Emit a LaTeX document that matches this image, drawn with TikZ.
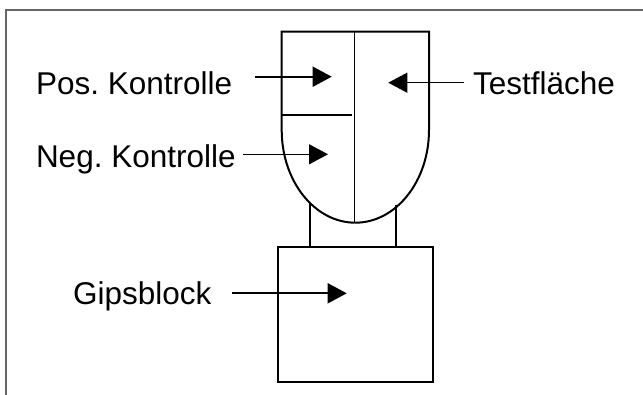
\documentclass[tikz,border=0pt]{standalone}
\usepackage{fontspec}
\setmainfont{Liberation Sans}
\usetikzlibrary{arrows.meta}
\frenchspacing
\begin{document}
\begin{tikzpicture}[x=1pt,y=-1pt,
  label/.style={anchor=base west,inner sep=0pt,outer sep=0pt,
    font=\fontsize{31.5}{36}\selectfont},
  outline/.style={line width=2pt,line join=miter},
  thin/.style={line width=1.4pt},
  pointer/.style={-{Triangle[length=19pt,width=20pt]}}]
  \useasboundingbox (0,0) rectangle (643,395);

  % frame (top and left edges)
  \draw[gray!80!black,line width=1.1pt] (6,395) -- (6,10) -- (643,10);

  % specimen: flat top, straight sides, half-ellipse bottom
  \draw[outline] (281.7,130) -- (281.7,31.7) -- (429,31.7) -- (429,130)
    arc[start angle=0,end angle=180,x radius=73.65,y radius=92.7];
  \coordinate (midTop) at (354.3,31.7);
  \coordinate (midBot) at (354.3,222.7);
  \draw[thin] (midTop) -- (midBot);
  \coordinate (divL) at (281.7,115.3);
  \coordinate (divR) at (351.7,115.3);
  \draw[outline] (divL) -- (divR);

  % stem
  \coordinate (stemLt) at (310,203.5);
  \coordinate (stemLb) at (310,245.7);
  \coordinate (stemRt) at (396,205);
  \coordinate (stemRb) at (396,245.7);
  \draw[thin] (stemLt) -- (stemLb);
  \draw[outline] (stemRt) -- (stemRb);

  % plaster block
  \node[draw,outline,minimum width=155pt,minimum height=135pt,inner sep=0pt,
    anchor=north west] (block) at (276.7,245.7) {};

  % labels
  \node[label] (pos) at (36,95) {Pos. Kontrolle};
  \node[label] (neg) at (36,168) {Neg. Kontrolle};
  \node[label] (test) at (473,95) {Testfläche};
  \node[label] (gips) at (73,305) {Gipsblock};

  % pointers
  \coordinate (posTail) at (255,76.7);
  \coordinate (posTip) at (331.7,76.7);
  \coordinate (negTail) at (243,154.3);
  \coordinate (negTip) at (328,154.3);
  \coordinate (testTail) at (464,82.7);
  \coordinate (testTip) at (388.3,82.7);
  \coordinate (gipsTail) at (231.7,293.3);
  \coordinate (gipsTip) at (346.7,293.3);
  \draw[pointer,line width=1.8pt] (posTail) -- (posTip);
  \draw[pointer,line width=1.4pt] (negTail) -- (negTip);
  \draw[pointer,line width=1.1pt] (testTail) -- (testTip);
  \draw[pointer,line width=1.8pt] (gipsTail) -- (gipsTip);
\end{tikzpicture}
\end{document}
